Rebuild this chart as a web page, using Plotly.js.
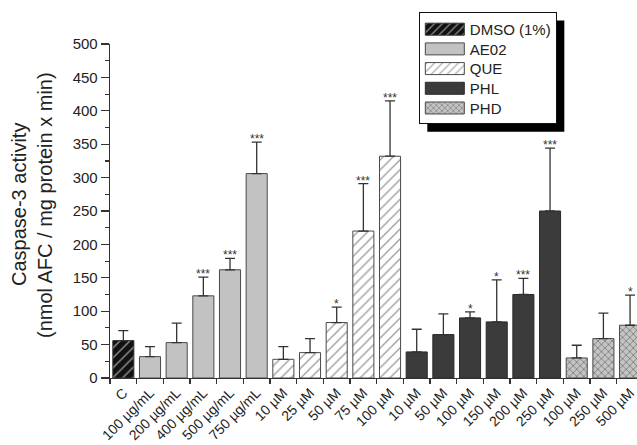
<!DOCTYPE html>
<html>
<head>
<meta charset="utf-8">
<script src="https://cdn.plot.ly/plotly-3.0.1.min.js"></script>
<style>html,body{margin:0;padding:0;background:#fff;}#chart{width:637px;height:445px;}</style>
</head>
<body>
<div id="chart"></div>
<script>
// ---- data ----
const groups = ['DMSO (1%)', 'AE02', 'QUE', 'PHL', 'PHD'];
const dmsoLabels = ['C'];
const dmsoMeans = [56];
const dmsoErr = [15];
const dmsoStars = [''];

const ae02Labels = ['100 µg/mL', '200 µg/mL', '400 µg/mL', '500 µg/mL', '750 µg/mL'];
const ae02Means = [32, 53, 123, 162, 306];
const ae02Err = [15, 29, 28, 17, 47];
const ae02Stars = ['', '', '***', '***', '***'];

const queLabels = ['10 µM', '25 µM', '50 µM', '75 µM', '100 µM'];
const queMeans = [28, 38, 83, 220, 332];
const queErr = [19, 21, 23, 71, 83];
const queStars = ['', '', '*', '***', '***'];

const phlLabels = ['10 µM', '50 µM', '100 µM', '150 µM', '200 µM', '250 µM'];
const phlMeans = [39, 65, 90, 84, 125, 250];
const phlErr = [34, 31, 9, 63, 24, 94];
const phlStars = ['', '', '*', '*', '***', '***'];

const phdLabels = ['100 µM', '250 µM', '500 µM'];
const phdMeans = [30, 59, 79];
const phdErr = [19, 38, 45];
const phdStars = ['', '', '*'];

const yTicks = [0, 50, 100, 150, 200, 250, 300, 350, 400, 450, 500];
const yTitleLines = ['Caspase-3 activity', '(nmol AFC / mg protein x min)'];

// ---- build ----
const font = 'Liberation Sans, Arial, Helvetica, sans-serif';
const sets = [
  {labels: dmsoLabels, means: dmsoMeans, err: dmsoErr, stars: dmsoStars,
   marker: {color: '#111', line: {color: '#333', width: 1},
            pattern: {shape: '/', bgcolor: '#111', fgcolor: '#8a8a8a', size: 7, solidity: 0.22, fillmode: 'replace'}}},
  {labels: ae02Labels, means: ae02Means, err: ae02Err, stars: ae02Stars,
   marker: {color: '#c2c2c2', line: {color: '#4a4a4a', width: 1}}},
  {labels: queLabels, means: queMeans, err: queErr, stars: queStars,
   marker: {color: '#fff', line: {color: '#4a4a4a', width: 1},
            pattern: {shape: '/', bgcolor: '#fff', fgcolor: '#9a9a9a', size: 7, solidity: 0.18, fillmode: 'replace'}}},
  {labels: phlLabels, means: phlMeans, err: phlErr, stars: phlStars,
   marker: {color: '#3b3b3b', line: {color: '#2a2a2a', width: 1}}},
  {labels: phdLabels, means: phdMeans, err: phdErr, stars: phdStars,
   marker: {color: '#bdbdbd', line: {color: '#4a4a4a', width: 1},
            pattern: {shape: 'x', bgcolor: '#c4c4c4', fgcolor: '#7a7a7a', size: 5, solidity: 0.3, fillmode: 'replace'}}}
];

let counter = 0;
const allKeys = [], allText = [];
const traces = [];
const annotations = [];
sets.forEach((s, gi) => {
  const keys = s.labels.map(l => { const k = l + '\u200b'.repeat(counter++); allKeys.push(k); allText.push(l); return k; });
  traces.push({
    type: 'bar', name: groups[gi], x: keys, y: s.means,
    marker: s.marker,
    error_y: {type: 'data', symmetric: false, array: s.err, arrayminus: s.means.map(() => 0),
              color: '#333', thickness: 1.3, width: 5},
    hoverinfo: 'x+y'
  });
  s.stars.forEach((st, i) => {
    if (st) annotations.push({x: keys[i], y: s.means[i] + s.err[i], xref: 'x', yref: 'y',
      text: st, showarrow: false, yanchor: 'bottom', yshift: -6,
      font: {family: font, size: 12, color: '#333'}});
  });
});

// y-axis title as two rotated lines
annotations.push({xref: 'paper', yref: 'paper', x: 0, y: 0.518, xshift: -91, textangle: -90,
  xanchor: 'center', yanchor: 'middle', showarrow: false, text: yTitleLines[0],
  font: {family: font, size: 20, color: '#222'}});
annotations.push({xref: 'paper', yref: 'paper', x: 0, y: 0.518, xshift: -65, textangle: -90,
  xanchor: 'center', yanchor: 'middle', showarrow: false, text: yTitleLines[1],
  font: {family: font, size: 20, color: '#222'}});

const layout = {
  width: 637, height: 445,
  margin: {l: 110, r: 0, t: 44, b: 67},
  paper_bgcolor: '#fff', plot_bgcolor: '#fff',
  barmode: 'overlay', bargap: 0.21,
  font: {family: font, color: '#222'},
  showlegend: true,
  legend: {x: 0.586, y: 1.096, xanchor: 'left', yanchor: 'top', itemwidth: 40,
           bgcolor: '#fff', bordercolor: '#111', borderwidth: 1,
           font: {family: font, size: 15, color: '#222'}, traceorder: 'normal'},
  xaxis: {type: 'category', categoryorder: 'array', categoryarray: allKeys,
          range: [-0.5, 19.26], tickson: 'boundaries', ticks: 'outside', ticklen: 5,
          tickcolor: '#333', tickwidth: 1.2, showline: true, linecolor: '#333', linewidth: 1.3,
          tickangle: -45, tickfont: {family: font, size: 14, color: '#222'},
          tickvals: allKeys, ticktext: allText, showgrid: false, zeroline: false, fixedrange: true},
  yaxis: {range: [0, 500], tickvals: yTicks, ticks: 'outside', ticklen: 8, tickwidth: 1.2,
          tickcolor: '#333', showline: true, linecolor: '#333', linewidth: 1.3,
          showgrid: false, zeroline: false, tickfont: {family: font, size: 15, color: '#222'},
          minor: {dtick: 25, ticks: 'outside', ticklen: 4, tickcolor: '#333', showgrid: false}},
  annotations: annotations,
  shapes: []
};

const gd = document.getElementById('chart');
const STEP = 19.7;

function parseT(el) {
  const m = /translate\(\s*([-\d.e]+)[ ,]+([-\d.e]+)\s*\)/.exec(el.getAttribute('transform') || '');
  return m ? [parseFloat(m[1]), parseFloat(m[2])] : [0, 0];
}

function fixLegend() {
  const items = Array.from(gd.querySelectorAll('.legend g.traces'));
  if (!items.length) return;
  const p0 = parseT(items[0]);
  items.forEach((el, i) => {
    const p = parseT(el);
    el.setAttribute('transform', 'translate(' + p[0] + ',' + (p0[1] + i * STEP) + ')');
  });
  const bg = gd.querySelector('.legend .bg');
  if (bg) bg.setAttribute('height', (2 * p0[1] + (items.length - 1) * STEP - 2).toFixed(1));
  gd.querySelectorAll('.legend g.legendpoints path').forEach(p => {
    p.setAttribute('d', 'M19.5,6H-19.5V-6H19.5Z');
  });
}

Plotly.newPlot(gd, traces, layout, {staticPlot: true}).then(() => {
  fixLegend();
  gd.on('plotly_afterplot', fixLegend);
  const bg = gd.querySelector('.legend .bg');
  if (bg) {
    const r = bg.getBoundingClientRect();
    const g = gd.getBoundingClientRect();
    const sz = gd._fullLayout._size;
    const off = 8;
    const px = v => (v - g.left - sz.l) / sz.w;
    const py = v => 1 - (v - g.top - sz.t) / sz.h;
    Plotly.relayout(gd, {shapes: [{type: 'rect', xref: 'paper', yref: 'paper', layer: 'above',
      x0: px(r.left + off), x1: px(r.right + off), y0: py(r.bottom + off), y1: py(r.top + off),
      fillcolor: '#000', line: {width: 0}}]}).then(fixLegend);
  }
});
</script>
</body>
</html>
